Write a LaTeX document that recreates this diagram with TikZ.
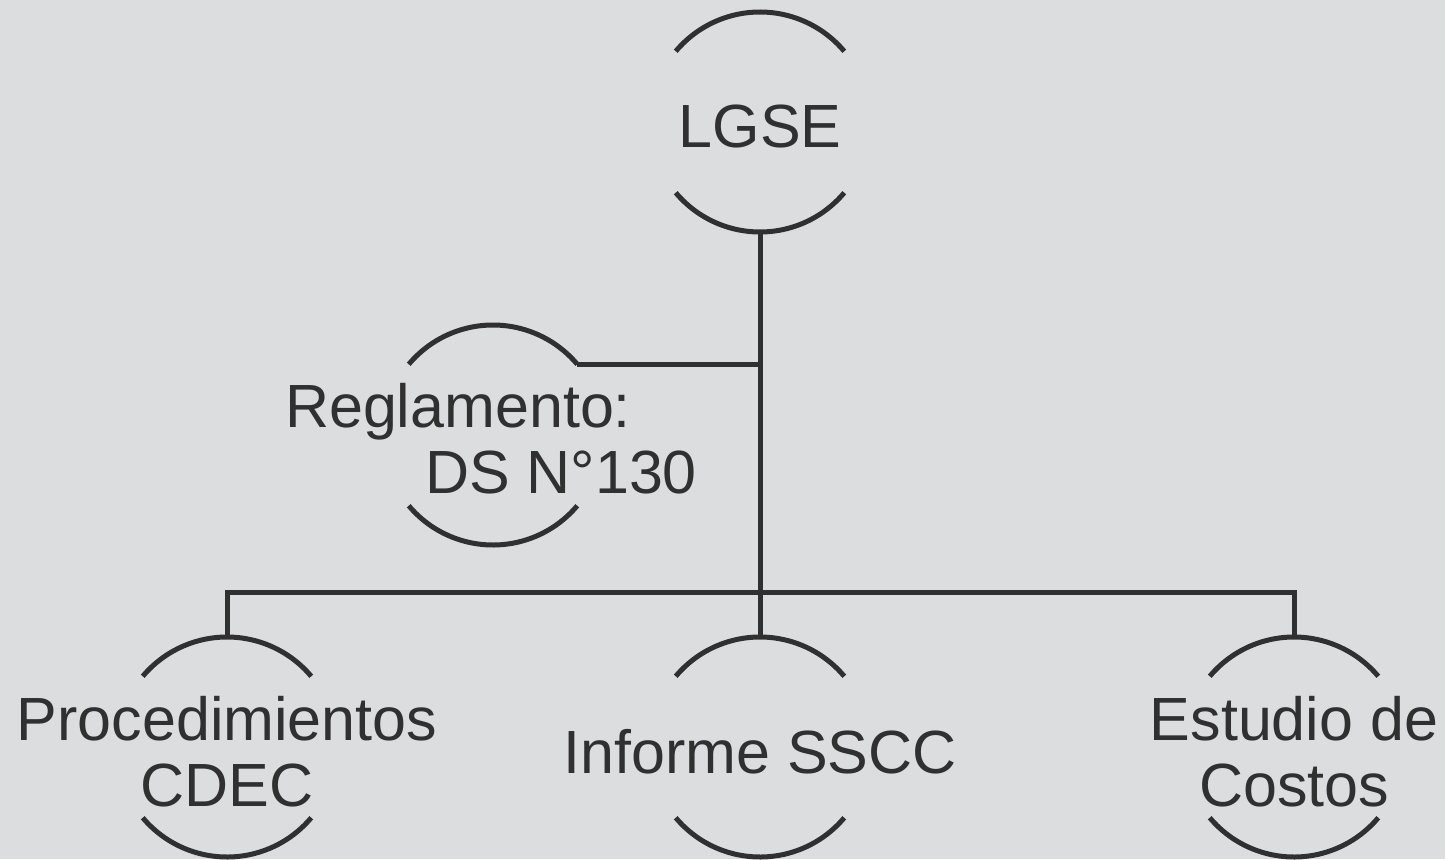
\documentclass[tikz,border=0pt]{standalone}
\usepackage{fontspec}
\setmainfont{Liberation Sans}
\usepackage{tikz}
\usetikzlibrary{positioning}

\definecolor{paper}{RGB}{220,221,223}
\definecolor{ink}{RGB}{48,48,48}

\tikzset{
  ring/.style={circle,draw=none,minimum size=110pt,inner sep=0pt,outer sep=0pt},
  lbl/.style={text=ink,align=center,inner sep=0pt,font=\fontsize{30.5}{33}\selectfont},
  midlbl/.style={lbl,yshift=-2.5pt},
  conn/.style={draw=ink,line width=2.5pt},
  arcline/.style={draw=ink,line width=2.5pt}
}

% top and bottom arcs of a ring
\newcommand{\ringarcs}[1]{%
  \draw[arcline] (#1.140) arc[start angle=140,end angle=40,radius=55pt];
  \draw[arcline] (#1.220) arc[start angle=220,end angle=320,radius=55pt];}

\begin{document}
\begin{tikzpicture}[x=0.5pt,y=0.5pt]
      \fill[paper] (0,0) rectangle (1445,859);
      \useasboundingbox (0,0) rectangle (1445,859);
      \node (lgse)   [ring] at (760,737)  {};
      \node (reg)    [ring] at (493,424)  {};
      \node (cdec)   [ring] at (227,112)  {};
      \node (sscc)   [ring] at (760,112)  {};
      \node (costos) [ring] at (1294,112) {};
      \ringarcs{lgse}
      \ringarcs{reg}
      \ringarcs{cdec}
      \ringarcs{sscc}
      \ringarcs{costos}
      \node (lgset)   [midlbl] at (lgse)   {LGSE};
      \node (regt1)   [lbl,anchor=base] at (458,432) {Reglamento:};
      \node (regt2)   [lbl,anchor=base] at (561,366) {DS N°130};
      \node (cdect)   [midlbl] at (cdec)   {Procedimientos\\CDEC};
      \node (sssct)   [midlbl] at (sscc)   {Informe SSCC};
      \node (costost) [midlbl] at (costos) {Estudio de\\Costos};
      \coordinate (hub) at (760,267);
      \path[conn] (lgse.south) -- (hub)
      (cdec.north) |- (hub) -| (costos.north)
      (sscc.north) -- (hub)
      (reg.40) -- (reg.40 -| hub);
    \end{tikzpicture}
\end{document}
